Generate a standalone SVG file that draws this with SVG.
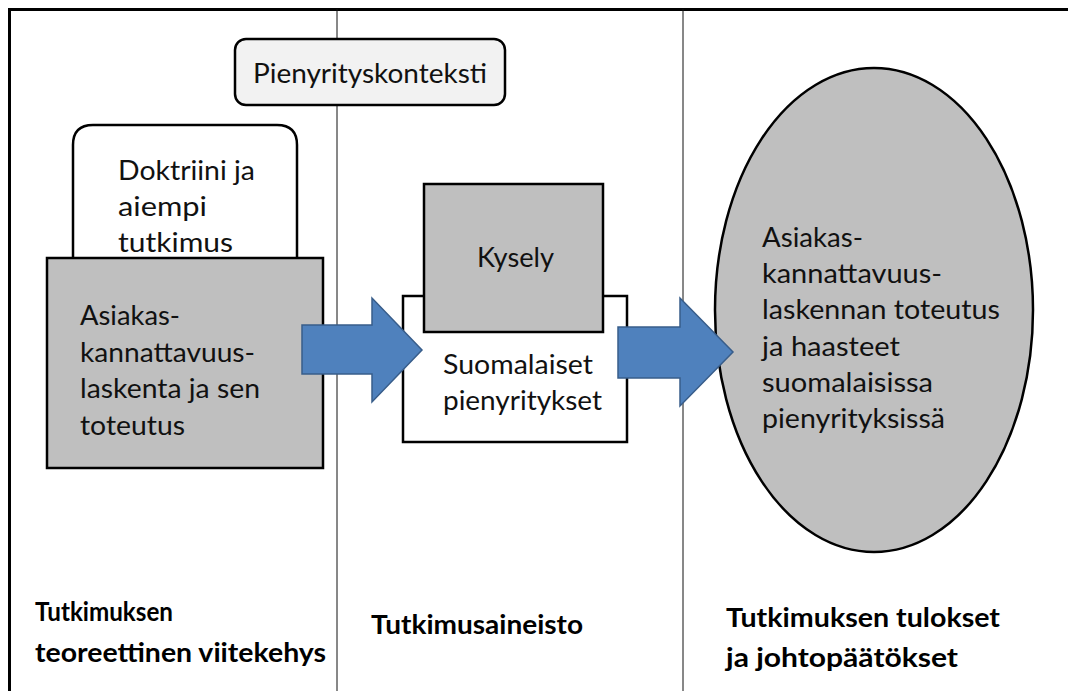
<svg xmlns="http://www.w3.org/2000/svg" width="1068" height="691" viewBox="0 0 1068 691">
<style>
.t{font-family:Lato,"Liberation Sans",sans-serif;font-size:27px;fill:#111}
.b{font-family:Lato,"Liberation Sans",sans-serif;font-size:26px;font-weight:bold;fill:#000}
.box{stroke:#000;stroke-width:2.5}
.gray{fill:#bfbfbf}
.arrow{fill:#4f81bd;stroke:#385d8a;stroke-width:1.5}
</style>
<rect width="1068" height="691" fill="#fff"/>
<g id="frame" fill="none" stroke="#000">
<line x1="8" y1="9.5" x2="1068" y2="9.5" stroke-width="3"/>
<line x1="9.5" y1="8" x2="9.5" y2="691" stroke-width="3"/>
<line x1="337" y1="9" x2="337" y2="691" stroke-width="1" stroke="#111"/>
<line x1="683" y1="9" x2="683" y2="691" stroke-width="1" stroke="#111"/>
</g>
<g id="doktriini">
<path class="box" fill="#fff" d="M73,258 V145 Q73,125 93,125 H277 Q297,125 297,145 V258"/>
<text class="t" x="118" y="180" textLength="137" lengthAdjust="spacingAndGlyphs">Doktriini ja</text>
<text class="t" x="118" y="216" textLength="89" lengthAdjust="spacingAndGlyphs">aiempi</text>
<text class="t" x="118" y="252" textLength="115" lengthAdjust="spacingAndGlyphs">tutkimus</text>
</g>
<g id="asiakaskannattavuuslaskenta">
<rect class="box gray" x="47" y="258" width="276" height="210"/>
<text class="t" x="80" y="325" textLength="100" lengthAdjust="spacingAndGlyphs">Asiakas-</text>
<text class="t" x="80" y="362" textLength="175" lengthAdjust="spacingAndGlyphs">kannattavuus-</text>
<text class="t" x="80" y="398" textLength="180" lengthAdjust="spacingAndGlyphs">laskenta ja sen</text>
<text class="t" x="80" y="435" textLength="105" lengthAdjust="spacingAndGlyphs">toteutus</text>
</g>
<g id="pienyrityskonteksti">
<rect class="box" fill="#f2f2f2" x="235" y="39" width="270" height="66" rx="11"/>
<text class="t" x="370" y="83" text-anchor="middle" textLength="234" lengthAdjust="spacingAndGlyphs">Pienyrityskonteksti</text>
</g>
<g id="suomalaiset">
<rect class="box" fill="#fff" x="403" y="296" width="224" height="146"/>
<text class="t" x="443" y="374" textLength="150" lengthAdjust="spacingAndGlyphs">Suomalaiset</text>
<text class="t" x="443" y="410" textLength="159" lengthAdjust="spacingAndGlyphs">pienyritykset</text>
</g>
<g id="kysely">
<rect class="box gray" x="424" y="184" width="179" height="148"/>
<text class="t" x="477" y="267" textLength="77" lengthAdjust="spacingAndGlyphs">Kysely</text>
</g>
<g id="tulokset">
<ellipse class="box gray" cx="874" cy="310" rx="159" ry="242"/>
<text class="t" x="762" y="247" textLength="101" lengthAdjust="spacingAndGlyphs">Asiakas-</text>
<text class="t" x="762" y="283" textLength="180" lengthAdjust="spacingAndGlyphs">kannattavuus-</text>
<text class="t" x="762" y="319" textLength="238" lengthAdjust="spacingAndGlyphs">laskennan toteutus</text>
<text class="t" x="762" y="356" textLength="138" lengthAdjust="spacingAndGlyphs">ja haasteet</text>
<text class="t" x="762" y="392" textLength="171" lengthAdjust="spacingAndGlyphs">suomalaisissa</text>
<text class="t" x="762" y="428" textLength="183" lengthAdjust="spacingAndGlyphs">pienyrityksissä</text>
</g>
<g id="connectors">
<polygon class="arrow" points="302,325 372,325 372,298 422,350 372,402 372,374 302,374"/>
<polygon class="arrow" points="618,327 680,327 680,298 733,352 680,406 680,378 618,378"/>
</g>
<g id="labels">
<text class="b" x="35" y="621" textLength="138" lengthAdjust="spacingAndGlyphs">Tutkimuksen</text>
<text class="b" x="35" y="662" textLength="291" lengthAdjust="spacingAndGlyphs">teoreettinen viitekehys</text>
<text class="b" x="371" y="634" textLength="212" lengthAdjust="spacingAndGlyphs">Tutkimusaineisto</text>
<text class="b" x="726" y="627" textLength="274" lengthAdjust="spacingAndGlyphs">Tutkimuksen tulokset</text>
<text class="b" x="726" y="667" textLength="232" lengthAdjust="spacingAndGlyphs">ja johtopäätökset</text>
</g>
</svg>
